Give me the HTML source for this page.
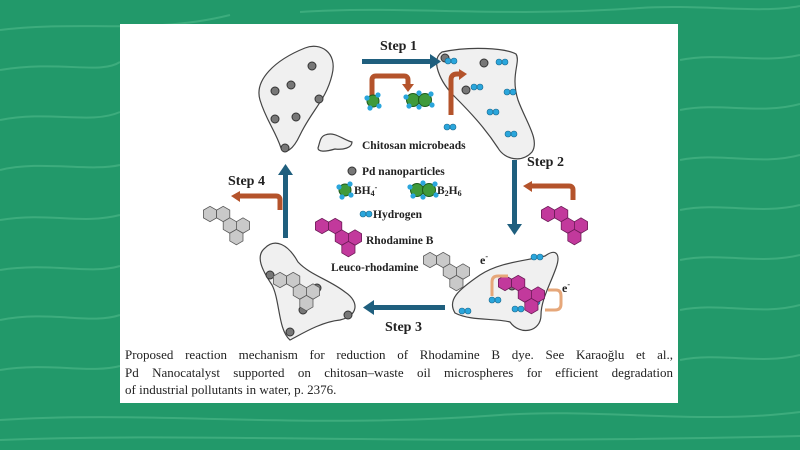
<!DOCTYPE html>
<html><head><meta charset="utf-8"><style>
html,body{margin:0;padding:0}
body{width:800px;height:450px;overflow:hidden;background:#22996a;position:relative;font-family:"Liberation Serif",serif}
#bg{position:absolute;left:0;top:0}
#panel{position:absolute;left:120px;top:24px;width:558px;height:379px;background:#fff}
#cap{position:absolute;left:125px;top:346px;width:548px;font-size:13px;line-height:17.5px;color:#222}
#cap div{white-space:nowrap;text-align:justify;text-align-last:justify}
#cap div.l{text-align-last:left}
</style></head><body>
<svg id="bg" width="800" height="450">
<g stroke="#4fb98a" stroke-width="2" fill="none" opacity="0.6">
<path d="M0 30 C80 20 150 35 230 15"/><path d="M0 70 C60 60 100 75 120 62"/><path d="M0 120 C50 110 90 125 120 112"/>
<path d="M0 170 C40 160 90 172 120 165"/><path d="M0 220 C50 212 80 225 120 215"/><path d="M0 270 C50 262 90 275 120 266"/>
<path d="M0 320 C50 310 90 325 120 315"/><path d="M0 370 C50 362 90 374 120 366"/><path d="M0 420 C150 410 300 430 500 415 C600 408 700 425 800 412"/>
<path d="M300 12 C400 5 500 18 640 8 C700 4 760 14 800 6"/><path d="M680 60 C720 52 760 64 800 55"/><path d="M680 110 C720 102 760 115 800 104"/>
<path d="M680 160 C720 152 760 166 800 155"/><path d="M680 210 C720 202 760 215 800 205"/><path d="M680 260 C720 252 760 265 800 255"/>
<path d="M680 310 C720 302 760 316 800 305"/><path d="M680 360 C720 352 760 365 800 355"/><path d="M0 440 C200 432 400 446 800 436"/>
</g></svg>
<div id="panel"></div>
<svg style="position:absolute;left:0;top:0" width="800" height="450">
<defs>
<g id="hx">
<polygon points="0,-7 6,-3.5 6,3.5 0,7 -6,3.5 -6,-3.5" transform="translate(0,0)"/>
<polygon points="0,-7 6,-3.5 6,3.5 0,7 -6,3.5 -6,-3.5" transform="translate(12,0)"/>
<polygon points="0,-7 6,-3.5 6,3.5 0,7 -6,3.5 -6,-3.5" transform="translate(18,10.5)"/>
<polygon points="0,-7 6,-3.5 6,3.5 0,7 -6,3.5 -6,-3.5" transform="translate(30,10.5)"/>
<polygon points="0,-7 6,-3.5 6,3.5 0,7 -6,3.5 -6,-3.5" transform="translate(24,21)"/>
</g>
<g id="pd"><circle r="4" fill="#777" stroke="#333" stroke-width="1"/></g>
<g id="h2"><circle cx="-3" r="3" fill="#2aa6dc" stroke="#17688e" stroke-width="0.6"/><circle cx="3" r="3" fill="#2aa6dc" stroke="#17688e" stroke-width="0.6"/></g>
<g id="bh"><circle r="6" fill="#3f9a3a" stroke="#1d5b1c"/><circle cx="-6" cy="-3" r="2.6" fill="#2aa6dc"/><circle cx="5" cy="-6" r="2.6" fill="#2aa6dc"/><circle cx="6" cy="5" r="2.6" fill="#2aa6dc"/><circle cx="-3" cy="7" r="2.6" fill="#2aa6dc"/></g>
<g id="b2"><circle cx="-6" r="6.5" fill="#3f9a3a" stroke="#1d5b1c"/><circle cx="6" r="6.5" fill="#3f9a3a" stroke="#1d5b1c"/>
<circle cx="-13" cy="-3" r="2.6" fill="#2aa6dc"/><circle cx="-10" cy="6" r="2.6" fill="#2aa6dc"/><circle cx="0" cy="-7" r="2.6" fill="#2aa6dc"/><circle cx="0" cy="7" r="2.6" fill="#2aa6dc"/><circle cx="12" cy="-6" r="2.6" fill="#2aa6dc"/><circle cx="13" cy="5" r="2.6" fill="#2aa6dc"/></g>
</defs>
<g fill="#f0f0f0" stroke="#444" stroke-width="1.2">
<path d="M305 48 C320 42 338 52 332 75 C326 100 312 110 300 135 C293 150 285 155 281 148 C275 130 266 120 260 100 C254 80 275 60 305 48 Z"/>
<path d="M442 52 C470 46 505 48 516 54 C521 62 510 75 518 100 C526 122 540 140 532 152 C522 163 505 160 498 148 C485 128 470 112 455 97 C440 82 430 60 442 52 Z"/>
<path d="M545 256 C556 248 561 254 556 268 C550 285 541 300 541 315 C541 332 520 336 510 322 C495 318 470 321 455 313 C447 300 458 290 480 275 C500 262 525 261 545 256 Z"/>
<path d="M265 248 C275 238 288 244 298 262 C310 275 330 280 345 292 C360 302 358 316 340 320 C320 322 300 335 290 340 C278 330 280 300 272 285 C262 270 255 256 265 248 Z"/>
<path d="M325 135 C335 131 343 140 352 142 C352 148 343 150 335 149 C325 152 318 152 318 148 C320 142 320 137 325 135 Z"/>
</g>
<g fill="#1f5f7e">
<rect x="362" y="59" width="70" height="5"/><polygon points="430,54 441,61.5 430,69"/>
<rect x="512" y="160" width="5" height="65"/><polygon points="507,224 514.5,235 522,224"/>
<rect x="372" y="305" width="73" height="5"/><polygon points="374,300 363,307.5 374,315"/>
<rect x="283" y="173" width="5" height="65"/><polygon points="278,175 285.5,164 293,175"/>
</g>
<g fill="none" stroke="#b4532b" stroke-width="5">
<path d="M372 100 V80 Q372 76 376 76 H404 Q408 76 408 80 V84"/>
<path d="M451 115 V80 Q451 74 457 74 H460"/>
<path d="M573 200 V190 Q573 186 569 186 H530"/>
<path d="M280 210 V200 Q280 196 276 196 H238"/>
</g>
<g fill="#b4532b">
<polygon points="402,84 408,92 414,84"/><polygon points="459,69 467,74 459,80"/>
<polygon points="532,181 523,186 532,192"/><polygon points="240,191 231,196 240,202"/>
</g>
<g>
<use href="#pd" x="312" y="66"/><use href="#pd" x="291" y="85"/><use href="#pd" x="319" y="99"/><use href="#pd" x="275" y="91"/><use href="#pd" x="275" y="119"/><use href="#pd" x="296" y="117"/><use href="#pd" x="285" y="148"/>
<use href="#pd" x="445" y="58"/><use href="#pd" x="484" y="63"/><use href="#pd" x="466" y="90"/>
<use href="#pd" x="270" y="275"/><use href="#pd" x="303" y="310"/><use href="#pd" x="317" y="288"/><use href="#pd" x="348" y="315"/><use href="#pd" x="290" y="332"/>
<use href="#pd" x="512" y="286"/><use href="#pd" x="528" y="296"/>
<use href="#pd" x="352" y="171"/>
</g>
<g>
<use href="#h2" x="451" y="61"/><use href="#h2" x="502" y="62"/><use href="#h2" x="477" y="87"/><use href="#h2" x="510" y="92"/><use href="#h2" x="493" y="112"/><use href="#h2" x="511" y="134"/><use href="#h2" x="450" y="127"/>
<use href="#h2" x="537" y="257"/><use href="#h2" x="495" y="300"/><use href="#h2" x="518" y="309"/><use href="#h2" x="534" y="302"/><use href="#h2" x="465" y="311"/>
<use href="#h2" x="366" y="214"/>
</g>
<use href="#bh" x="373" y="101"/><use href="#b2" x="419" y="100"/>
<use href="#bh" x="345" y="190"/><use href="#b2" x="423" y="190"/>
<g stroke-width="0.7">
<use href="#hx" transform="translate(322,226) scale(1.1)" fill="#c2399c" stroke="#6a1a55"/>
<use href="#hx" transform="translate(548,214) scale(1.1)" fill="#c2399c" stroke="#6a1a55"/>
<use href="#hx" transform="translate(505,283) scale(1.1)" fill="#c2399c" stroke="#6a1a55"/>
<use href="#hx" transform="translate(210,214) scale(1.1)" fill="#c9c9c9" stroke="#555"/>
<use href="#hx" transform="translate(430,260) scale(1.1)" fill="#c9c9c9" stroke="#555"/>
<use href="#hx" transform="translate(280,280) scale(1.1)" fill="#c9c9c9" stroke="#555"/>
</g>
<g fill="none" stroke="#e6a77a" stroke-width="3">
<path d="M492 296 V282 Q492 276 498 276 H508"/>
<path d="M548 290 H556 Q561 290 561 296 V304 Q561 310 555 310 H545"/>
</g>
<g font-family="Liberation Serif,serif" font-weight="bold" fill="#222">
<text x="380" y="50" font-size="14">Step 1</text>
<text x="527" y="166" font-size="14">Step 2</text>
<text x="385" y="331" font-size="14">Step 3</text>
<text x="228" y="185" font-size="14">Step 4</text>
<text x="362" y="149" font-size="11.5">Chitosan microbeads</text>
<text x="362" y="175" font-size="11.5">Pd nanoparticles</text>
<text x="354" y="194" font-size="11.5">BH<tspan font-size="8" dy="2">4</tspan><tspan font-size="8" dy="-6">-</tspan></text>
<text x="437" y="194" font-size="11.5">B<tspan font-size="8" dy="2">2</tspan><tspan dy="-2">H</tspan><tspan font-size="8" dy="2">6</tspan></text>
<text x="373" y="218" font-size="11.5">Hydrogen</text>
<text x="366" y="244" font-size="11.5">Rhodamine B</text>
<text x="331" y="271" font-size="11.5">Leuco-rhodamine</text>
<text x="480" y="264" font-size="12">e<tspan font-size="8" dy="-5">-</tspan></text>
<text x="562" y="292" font-size="12">e<tspan font-size="8" dy="-5">-</tspan></text>
</g>
</svg>
<div id="cap"><div>Proposed reaction mechanism for reduction of Rhodamine B dye. See Karaoğlu et al.,</div><div>Pd Nanocatalyst supported on chitosan–waste oil microspheres for efficient degradation</div><div class="l">of industrial pollutants in water, p. 2376.</div></div>
</body></html>
